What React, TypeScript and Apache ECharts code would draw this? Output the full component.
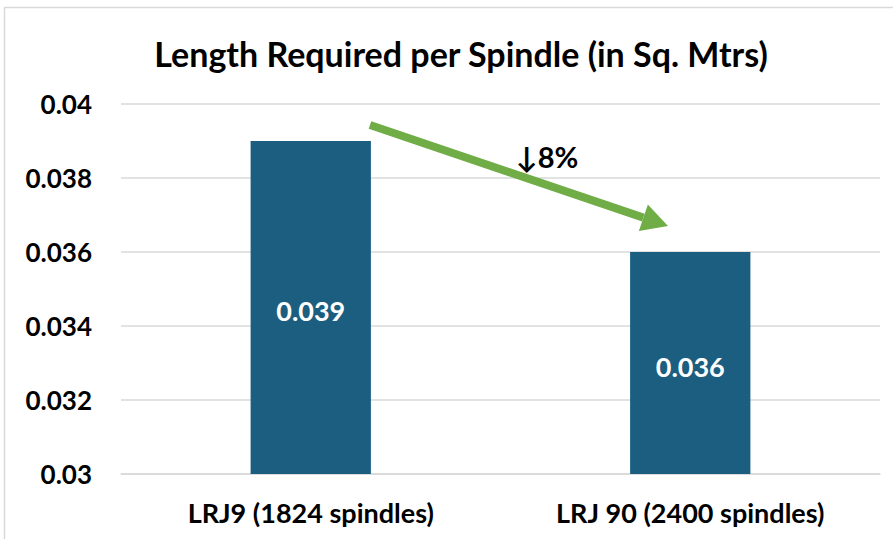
import React, { useEffect, useRef } from "react";
import * as echarts from "echarts";

const categories = ["LRJ9 (1824 spindles)", "LRJ 90 (2400 spindles)"];
const values = [0.039, 0.036];
const yTicks = [0.03, 0.032, 0.034, 0.036, 0.038, 0.04];
const changeLabel = "↓8%";

export default function App() {
  const ref = useRef<HTMLDivElement>(null);
  useEffect(() => {
    document.body.style.margin = "0";
    const chart = echarts.init(ref.current!, null, { renderer: "svg" });
    const font = "Lato, 'Open Sans', sans-serif";
    const tip = [668, 226];
    const start = [370, 125];
    const dx = tip[0] - start[0], dy = tip[1] - start[1];
    const len = Math.sqrt(dx * dx + dy * dy);
    const ux = dx / len, uy = dy / len;
    const hl = 26, hw = 14;
    const bx = tip[0] - hl * ux, by = tip[1] - hl * uy;
    chart.setOption({
      animation: false,
      backgroundColor: "#ffffff",
      title: {
        text: "Length Required per Spindle (in Sq. Mtrs)",
        top: 31,
        left: 456,
        textAlign: "center",
        textStyle: { fontFamily: font, fontWeight: "bold", fontSize: 34, color: "#000" },
      },
      grid: { left: 121, right: 13, top: 104, bottom: 65, containLabel: false },
      xAxis: {
        type: "category",
        data: categories,
        axisLine: { lineStyle: { color: "#d9d9d9", width: 1.5 } },
        axisTick: { show: false },
        axisLabel: { fontFamily: font, fontWeight: "bold", fontSize: 27, color: "#000", margin: 25 },
      },
      yAxis: {
        type: "value",
        min: yTicks[0],
        max: yTicks[yTicks.length - 1],
        interval: 0.002,
        axisLine: { show: false },
        axisTick: { show: false },
        splitLine: { lineStyle: { color: "#d9d9d9", width: 1.5 } },
        axisLabel: { fontFamily: font, fontWeight: "bold", fontSize: 26, color: "#000", margin: 29 },
      },
      series: [
        {
          type: "bar",
          data: values,
          barWidth: "31.7%",
          itemStyle: { color: "#1b5e80" },
          label: {
            show: true,
            position: "inside",
            offset: [0, 3],
            fontFamily: font,
            fontWeight: "bold",
            fontSize: 27,
            color: "#fff",
          },
        },
      ],
      graphic: [
        {
          type: "rect",
          shape: { x: 4.5, y: 7.5, width: 900, height: 540 },
          style: { fill: "none", stroke: "#d9d9d9", lineWidth: 1.5 },
          silent: true,
        },
        {
          type: "line",
          shape: { x1: start[0], y1: start[1], x2: bx, y2: by },
          style: { stroke: "#70ad47", lineWidth: 8 },
          z: 100,
        },
        {
          type: "polygon",
          shape: {
            points: [
              tip,
              [bx - hw * uy, by + hw * ux],
              [bx + hw * uy, by - hw * ux],
            ],
          },
          style: { fill: "#70ad47" },
          z: 100,
        },
        {
          type: "text",
          x: 516,
          y: 142,
          style: {
            text: changeLabel,
            fontFamily: font,
            fontWeight: "bold",
            fontSize: 29,
            fill: "#000",
          },
          z: 101,
        },
      ],
    });
    return () => chart.dispose();
  }, []);
  return <div ref={ref} style={{ width: 893, height: 539 }} />;
}
